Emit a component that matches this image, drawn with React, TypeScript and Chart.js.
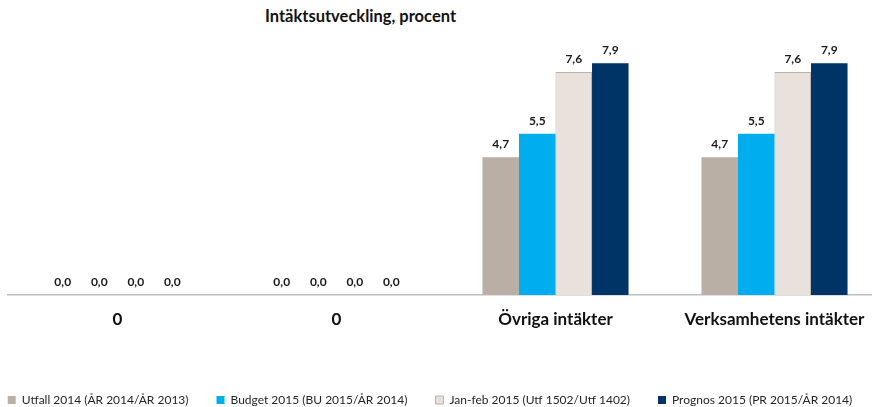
import React, { useEffect, useRef } from "react";
import { Chart, registerables } from "chart.js";

Chart.register(...registerables);

const categories = ["0", "0", "Övriga intäkter", "Verksamhetens intäkter"];
const utfall2014 = [0, 0, 4.7, 4.7];
const budget2015 = [0, 0, 5.5, 5.5];
const janfeb2015 = [0, 0, 7.6, 7.6];
const prognos2015 = [0, 0, 7.9, 7.9];
const seriesNames = [
  "Utfall 2014 (ÅR 2014/ÅR 2013)",
  "Budget 2015 (BU 2015/ÅR 2014)",
  "Jan-feb 2015 (Utf 1502/Utf 1402)",
  "Prognos 2015 (PR 2015/ÅR 2014)",
];
const titleText = "Intäktsutveckling, procent";

const FONT = "Lato, 'Liberation Sans', sans-serif";

const valueLabels = {
  id: "valueLabels",
  afterDatasetsDraw(chart: any) {
    const ctx = chart.ctx;
    ctx.save();
    ctx.font = `bold 12px ${FONT}`;
    ctx.fillStyle = "#1a1a1a";
    ctx.textAlign = "center";
    ctx.textBaseline = "bottom";
    chart.data.datasets.forEach((ds: any, i: number) => {
      const meta = chart.getDatasetMeta(i);
      meta.data.forEach((el: any, j: number) => {
        const v = ds.data[j];
        ctx.fillText(v.toFixed(1).replace(".", ","), el.x, el.y - 7);
      });
    });
    ctx.restore();
  },
};

export default function App() {
  const ref = useRef<HTMLCanvasElement>(null);
  useEffect(() => {
    if (!ref.current) return;
    const chart = new Chart(ref.current, {
      type: "bar",
      data: {
        labels: categories,
        datasets: [
          { label: seriesNames[0], data: utfall2014, backgroundColor: "#B9AFA5", borderColor: "#B9AFA5", borderWidth: 0 },
          { label: seriesNames[1], data: budget2015, backgroundColor: "#00AEEF", borderColor: "#00AEEF", borderWidth: 0 },
          { label: seriesNames[2], data: janfeb2015, backgroundColor: "#E9E1DB", borderColor: "#BDB3A9", borderWidth: 1 },
          { label: seriesNames[3], data: prognos2015, backgroundColor: "#003366", borderColor: "#003366", borderWidth: 0 },
        ],
      },
      options: {
        animation: false,
        responsive: false,
        maintainAspectRatio: false,
        layout: { padding: { top: 31, left: 0, right: 0, bottom: 30 } },
        datasets: { bar: { categoryPercentage: 0.667, barPercentage: 1.0 } },
        scales: {
          x: {
            grid: { display: false, drawTicks: false },
            border: { display: true, color: "#BFBFBF", width: 1.5 },
            ticks: {
              padding: 14,
              color: "#111",
              font: { family: FONT, size: 17, weight: "bold" },
              maxRotation: 0,
            },
            afterFit: (s: any) => { s.height = 71; },
          },
          y: {
            min: 0,
            max: 9,
            grid: { display: false, drawTicks: false },
            border: { display: false },
            ticks: { display: false },
            afterFit: (s: any) => { s.width = 48; },
          },
          y2: {
            position: "right",
            min: 0,
            max: 9,
            grid: { display: false, drawTicks: false },
            border: { display: false },
            ticks: { display: false },
            afterFit: (s: any) => { s.width = 16; },
          },
        },
        plugins: {
          legend: {
            position: "bottom",
            labels: {
              boxWidth: 8,
              boxHeight: 8,
              padding: 28,
              color: "#262626",
              font: { family: FONT, size: 12 },
            },
          },
          tooltip: { enabled: false },
          title: { display: false },
        },
      },
      plugins: [valueLabels],
    });
    return () => chart.destroy();
  }, []);
  return (
    <div style={{ position: "fixed", left: 0, top: 0, width: 872, height: 407, overflow: "hidden", background: "#fff" }}>
      <div style={{ position: "absolute", left: 265, top: 6, font: `bold 16.5px ${FONT}`, color: "#111", whiteSpace: "nowrap" }}>
        {titleText}
      </div>
      <canvas ref={ref} width={940} height={446} style={{ position: "absolute", left: -40, top: 0, width: 940, height: 446 }} />
    </div>
  );
}
